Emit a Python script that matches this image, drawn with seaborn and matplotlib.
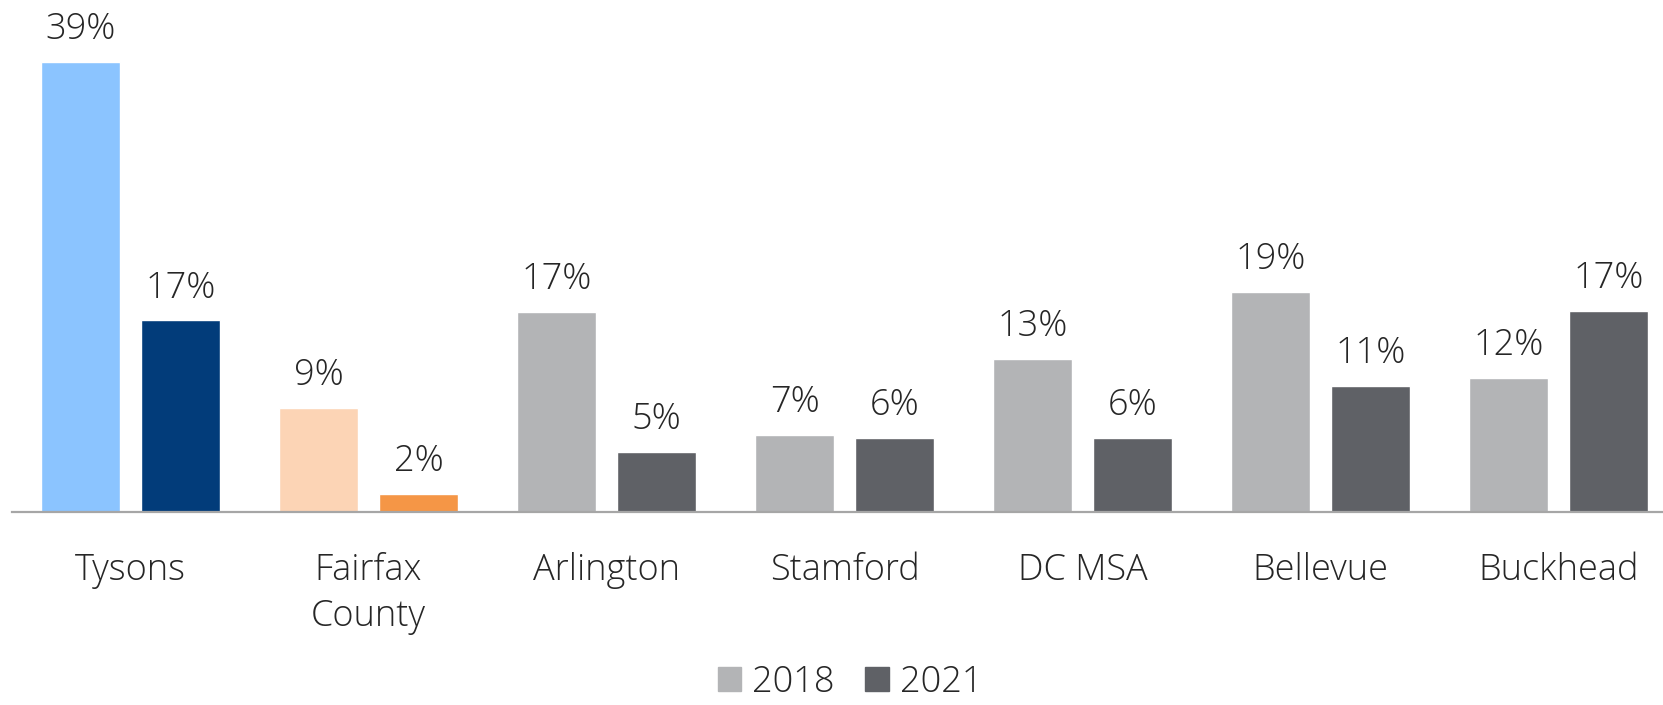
import pandas as pd
import matplotlib.pyplot as plt
import seaborn as sns
from matplotlib.patches import Patch

sns.set_theme(style="white")
plt.rcParams['font.family'] = ['Open Sans', 'DejaVu Sans']
plt.rcParams['font.weight'] = 'light'

# data
areas = ["Tysons", "Fairfax\nCounty", "Arlington", "Stamford", "DC MSA", "Bellevue", "Buckhead"]
vals_2018 = [39.0, 9.0, 17.3, 6.7, 13.3, 19.1, 11.6]
vals_2021 = [16.6, 1.6, 5.2, 6.4, 6.4, 10.9, 17.4]
years = ["2018", "2021"]

grey_2018 = "#B3B4B6"
grey_2021 = "#5F6166"
# first two areas get their own colours
special = {0: ("#8BC4FF", "#023C7A"), 1: ("#FCD4B5", "#F59646")}

df = pd.DataFrame({
    "area": areas * 2,
    "year": [years[0]] * len(areas) + [years[1]] * len(areas),
    "pct": vals_2018 + vals_2021,
})

W, H = 1663, 705
fig = plt.figure(figsize=(W / 100, H / 100), dpi=100)
ax = fig.add_axes([11.5 / W, (H - 512) / H, 1666 / W, 461.6 / H])

sns.barplot(data=df, x="area", y="pct", hue="year", order=areas, hue_order=years,
            palette=[grey_2018, grey_2021], width=0.84, gap=0.21, saturation=1,
            errorbar=None, ax=ax)

for i, (c18, c21) in special.items():
    ax.containers[0][i].set_facecolor(c18)
    ax.containers[1][i].set_facecolor(c21)

txt = "#262626"
for cont, vals in zip(ax.containers, [vals_2018, vals_2021]):
    ax.bar_label(cont, labels=[f"{v:.0f}%" for v in vals], padding=10,
                 fontsize=26, color=txt)

ax.set_xlim(-0.5, 6.5)
ax.set_ylim(0, 40)
ax.set_xlabel("")
ax.set_ylabel("")
ax.set_yticks([])
ax.tick_params(axis="x", length=0, pad=29, labelsize=26, labelcolor=txt)
for lab in ax.get_xticklabels():
    lab.set_linespacing(1.3)
for s in ["top", "left", "right"]:
    ax.spines[s].set_visible(False)
ax.spines["bottom"].set_color("#A6A6A6")
ax.spines["bottom"].set_linewidth(1.6)

ax.legend_.remove()
handles = [Patch(color=grey_2018), Patch(color=grey_2021)]
fig.legend(handles, years, loc="center", bbox_to_anchor=(850 / W, 1 - 682 / H),
           ncol=2, frameon=False, fontsize=26, handlelength=0.65, handleheight=0.65,
           handletextpad=0.3, columnspacing=0.85, labelcolor=txt,
           borderpad=0.1)

fig.savefig("out.png", dpi=100)
